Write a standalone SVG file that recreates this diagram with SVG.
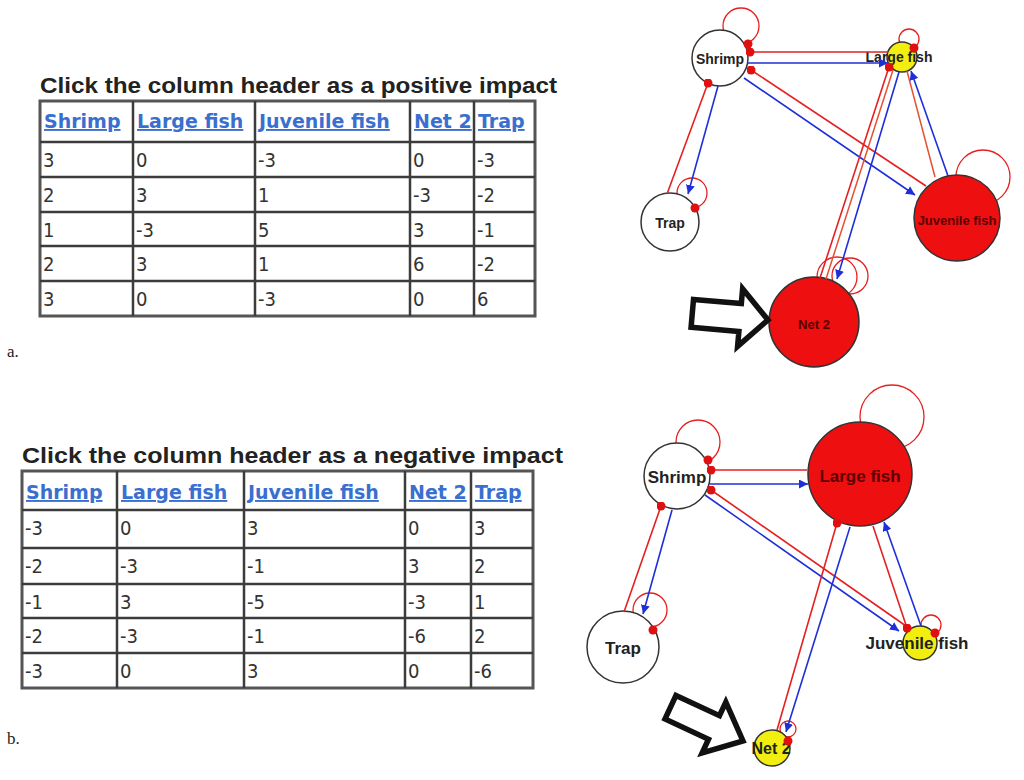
<svg xmlns="http://www.w3.org/2000/svg" width="1024" height="780" viewBox="0 0 1024 780">
<style>
.title{font-family:"Liberation Sans",Arial,sans-serif;font-weight:bold;font-size:22px;fill:#222}
.hdr{font-family:"DejaVu Sans",Verdana,sans-serif;font-weight:bold;font-size:19px;fill:#3a6fd0;text-decoration:underline}
.num{font-family:"DejaVu Sans Condensed","Liberation Sans Narrow","Liberation Sans",sans-serif;font-stretch:condensed;font-size:20px;fill:#333}
.grid{fill:none;stroke:#3c3c3c;stroke-width:2.5}
.outer{fill:#fff;stroke:#555;stroke-width:3}
.cap{font-family:"Liberation Serif","Times New Roman",serif;font-size:17px;fill:#222}
.node{stroke:#333;stroke-width:1.5}
.w{fill:#fff}.r{fill:#ee1010}.y{fill:#f2ee10}
.lbl{font-family:"Liberation Sans",Arial,sans-serif;font-weight:bold;text-anchor:middle;dominant-baseline:central;fill:#222}
.dk{fill:#5a0000}
.loop{fill:none;stroke:#e52020;stroke-width:1.3}
.re{stroke:#e52020;stroke-width:1.6;fill:none;marker-end:url(#dot)}
.re0{stroke:#e55030;stroke-width:1.5;fill:none}
.be{stroke:#1f2fd8;stroke-width:1.6;fill:none;marker-end:url(#arr)}
.big{fill:#fff;stroke:#111;stroke-width:5.5;stroke-linejoin:miter}
.rdot{fill:#e01010}
</style>
<defs>
<marker id="arr" viewBox="0 0 10 10" refX="10" refY="5" markerWidth="9" markerHeight="9" markerUnits="userSpaceOnUse" orient="auto"><path d="M0,0 L10,5 L0,10 Z" fill="#1f2fd8"/></marker>
<marker id="dot" viewBox="0 0 10 10" refX="5" refY="5" markerWidth="9" markerHeight="9" markerUnits="userSpaceOnUse"><circle cx="5" cy="5" r="5" fill="#e01010"/></marker>
</defs>
<rect width="1024" height="780" fill="#fff"/>

<!-- Table a -->
<g id="table-a">
<text class="title" x="40" y="93" textLength="517" lengthAdjust="spacingAndGlyphs">Click the column header as a positive impact</text>
<rect class="outer" x="40" y="101" width="495" height="215"/>
<path class="grid" d="M133,101V316M255,101V316M410,101V316M474,101V316M40,142H535M40,177H535M40,212H535M40,246H535M40,281H535"/>
<text class="hdr" x="44" y="128">Shrimp</text>
<text class="hdr" x="137" y="128">Large fish</text>
<text class="hdr" x="259" y="128">Juvenile fish</text>
<text class="hdr" x="414" y="128">Net 2</text>
<text class="hdr" x="478" y="128">Trap</text>
<g class="num">
<text x="43" y="167">3</text><text x="136" y="167">0</text><text x="258" y="167">-3</text><text x="413" y="167">0</text><text x="477" y="167">-3</text>
<text x="43" y="202">2</text><text x="136" y="202">3</text><text x="258" y="202">1</text><text x="413" y="202">-3</text><text x="477" y="202">-2</text>
<text x="43" y="237">1</text><text x="136" y="237">-3</text><text x="258" y="237">5</text><text x="413" y="237">3</text><text x="477" y="237">-1</text>
<text x="43" y="271">2</text><text x="136" y="271">3</text><text x="258" y="271">1</text><text x="413" y="271">6</text><text x="477" y="271">-2</text>
<text x="43" y="306">3</text><text x="136" y="306">0</text><text x="258" y="306">-3</text><text x="413" y="306">0</text><text x="477" y="306">6</text>
</g>
</g>
<text class="cap" x="7" y="357">a.</text>

<!-- Table b -->
<g id="table-b">
<text class="title" x="22" y="463" textLength="541" lengthAdjust="spacingAndGlyphs">Click the column header as a negative impact</text>
<rect class="outer" x="22" y="471" width="511" height="217"/>
<path class="grid" d="M117,471V688M244,471V688M405,471V688M471,471V688M22,510H533M22,548H533M22,584H533M22,618H533M22,653H533"/>
<text class="hdr" x="26" y="499">Shrimp</text>
<text class="hdr" x="121" y="499">Large fish</text>
<text class="hdr" x="248" y="499">Juvenile fish</text>
<text class="hdr" x="409" y="499">Net 2</text>
<text class="hdr" x="475" y="499">Trap</text>
<g class="num">
<text x="25" y="535">-3</text><text x="120" y="535">0</text><text x="247" y="535">3</text><text x="408" y="535">0</text><text x="474" y="535">3</text>
<text x="25" y="573">-2</text><text x="120" y="573">-3</text><text x="247" y="573">-1</text><text x="408" y="573">3</text><text x="474" y="573">2</text>
<text x="25" y="609">-1</text><text x="120" y="609">3</text><text x="247" y="609">-5</text><text x="408" y="609">-3</text><text x="474" y="609">1</text>
<text x="25" y="643">-2</text><text x="120" y="643">-3</text><text x="247" y="643">-1</text><text x="408" y="643">-6</text><text x="474" y="643">2</text>
<text x="25" y="678">-3</text><text x="120" y="678">0</text><text x="247" y="678">3</text><text x="408" y="678">0</text><text x="474" y="678">-6</text>
</g>
</g>
<text class="cap" x="7" y="744">b.</text>

<!-- Graph a: self loops -->
<g id="loops-a">
<circle class="loop" cx="741" cy="26" r="18"/>
<circle class="loop" cx="909" cy="39" r="10"/>
<circle class="loop" cx="692" cy="193" r="15"/>
<circle class="loop" cx="983" cy="177" r="27"/>
<circle class="loop" cx="837" cy="277" r="20"/>
<circle class="loop" cx="850" cy="276" r="18"/>
</g>

<!-- Graph b: self loops -->
<g id="loops-b">
<circle class="loop" cx="698" cy="442" r="22"/>
<circle class="loop" cx="892" cy="417" r="32"/>
<circle class="loop" cx="650" cy="610" r="17"/>
<circle class="loop" cx="931" cy="625" r="10"/>
<circle class="loop" cx="788" cy="729" r="8"/>
</g>

<!-- Graph a nodes -->
<g id="a-shrimp"><circle class="node w" cx="720" cy="58" r="28"/><text class="lbl" x="720" y="59" font-size="14">Shrimp</text></g>
<g id="a-large-fish"><circle class="node y" cx="902" cy="57" r="15"/><text class="lbl" x="899" y="57" font-size="14">Large fish</text></g>
<g id="a-trap"><circle class="node w" cx="670" cy="222" r="29"/><text class="lbl" x="670" y="223" font-size="14">Trap</text></g>
<g id="a-juvenile-fish"><circle class="node r" cx="957" cy="218" r="43"/><text class="lbl dk" x="957" y="220" font-size="13">Juvenile fish</text></g>
<g id="a-net2"><circle class="node r" cx="814" cy="322" r="45"/><text class="lbl dk" x="814" y="324" font-size="13">Net 2</text></g>

<!-- Graph b nodes -->
<g id="b-shrimp"><circle class="node w" cx="677" cy="476" r="33"/><text class="lbl" x="677" y="477" font-size="17">Shrimp</text></g>
<g id="b-large-fish"><circle class="node r" cx="860" cy="474" r="52"/><text class="lbl dk" x="860" y="476" font-size="17">Large fish</text></g>
<g id="b-trap"><circle class="node w" cx="623" cy="647" r="36"/><text class="lbl" x="623" y="648" font-size="17">Trap</text></g>
<g id="b-juvenile-fish"><circle class="node y" cx="920" cy="643" r="17"/><text class="lbl" x="917" y="643" font-size="17">Juvenile fish</text></g>
<g id="b-net2"><circle class="node y" cx="772" cy="748" r="18"/><text class="lbl" x="771" y="748" font-size="16">Net 2</text></g>

<!-- Connectors -->
<g id="connectors">
<!-- graph a -->
<path class="re" d="M888,52 L750,52"/>
<path class="be" d="M747,63 L888,63"/>
<path class="re" d="M667,194 L708,83"/>
<path class="be" d="M718,86 L688,194"/>
<path class="be" d="M744,78 L915,195"/>
<path class="re" d="M926,186 L751,70"/>
<path class="re0" d="M907,71 L935,177"/>
<path class="be" d="M948,176 L911,71"/>
<path class="re" d="M820,278 L889,67"/>
<path class="re0" d="M826,279 L893,70"/>
<path class="be" d="M899,72 L837,279"/>
<circle class="rdot" cx="748" cy="44" r="4.5"/>
<circle class="rdot" cx="914" cy="48" r="4.5"/>
<circle class="rdot" cx="695" cy="208" r="4.5"/>
<!-- graph b -->
<path class="re" d="M807,470 L711,470"/>
<path class="be" d="M710,484 L808,484"/>
<path class="re" d="M624,612 L661,506"/>
<path class="be" d="M672,510 L643,614"/>
<path class="be" d="M705,495 L899,631"/>
<path class="re" d="M906,626 L711,490"/>
<path class="re" d="M873,526 L907,628"/>
<path class="be" d="M921,626 L884,522"/>
<path class="re" d="M777,730 L837,523"/>
<path class="be" d="M850,527 L786,732"/>
<circle class="rdot" cx="708" cy="460" r="4.5"/>
<circle class="rdot" cx="653" cy="630" r="4.5"/>
<circle class="rdot" cx="935" cy="633" r="4.5"/>
<circle class="rdot" cx="788" cy="741" r="4.5"/>
</g>

<!-- Pointer arrows -->
<g id="pointer-a"><polygon class="big" transform="translate(768,320) rotate(5)" points="-76,-14 -28,-14 -28,-29 0,0 -28,29 -28,14 -76,14"/></g>
<g id="pointer-b"><polygon class="big" transform="translate(743,741) rotate(25)" points="-80,-13 -32,-13 -32,-28 0,0 -32,28 -32,13 -80,13"/></g>
</svg>
